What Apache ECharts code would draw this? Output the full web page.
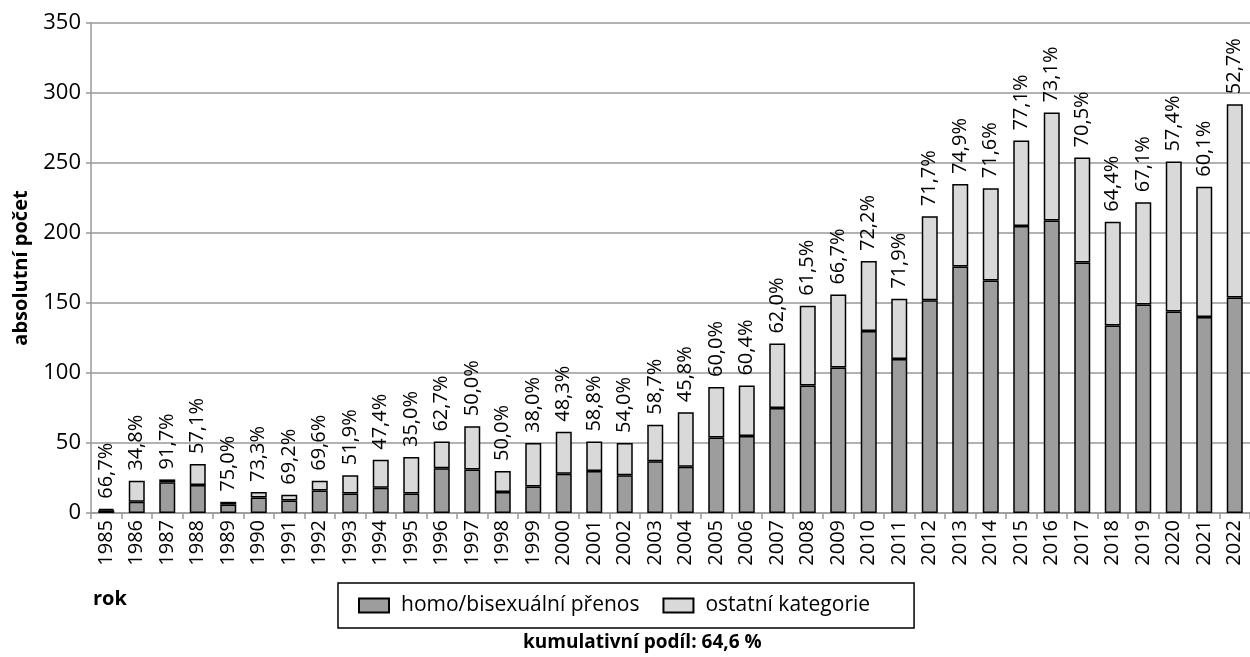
<!DOCTYPE html>
<html>
<head>
<meta charset="utf-8">
<script src="https://cdn.jsdelivr.net/npm/echarts@6/dist/echarts.min.js"></script>
<style>
  html, body { margin: 0; padding: 0; background: #fff; }
  #chart { width: 1250px; height: 657px; }
</style>
</head>
<body>
<div id="chart"></div>
<script>
// roky
const years = ['1985','1986','1987','1988','1989','1990','1991','1992','1993','1994',
  '1995','1996','1997','1998','1999','2000','2001','2002','2003','2004',
  '2005','2006','2007','2008','2009','2010','2011','2012','2013','2014',
  '2015','2016','2017','2018','2019','2020','2021','2022']
// celkovy pocet
const totals = [3, 23, 24, 35, 8, 15, 13, 23, 27, 38,
  40, 51, 62, 30, 50, 58, 51, 50, 63, 72,
  90, 91, 121, 148, 156, 180, 153, 212, 235, 232,
  266, 286, 254, 208, 222, 251, 233, 292]
// homo/bisexualni prenos
const homo = [2, 8, 22, 20, 6, 11, 9, 16, 14, 18,
  14, 32, 31, 15, 19, 28, 30, 27, 37, 33,
  54, 55, 75, 91, 104, 130, 110, 152, 176, 166,
  205, 209, 179, 134, 149, 144, 140, 154]
// popisky nad sloupci
const shares = ['66,7%','34,8%','91,7%','57,1%','75,0%','73,3%','69,2%','69,6%','51,9%','47,4%',
  '35,0%','62,7%','50,0%','50,0%','38,0%','48,3%','58,8%','54,0%','58,7%','45,8%',
  '60,0%','60,4%','62,0%','61,5%','66,7%','72,2%','71,9%','71,7%','74,9%','71,6%',
  '77,1%','73,1%','70,5%','64,4%','67,1%','57,4%','60,1%','52,7%']
const yTicks = [0, 50, 100, 150, 200, 250, 300, 350]

const others = totals.map((t, i) => t - homo[i])
const font = "'Open Sans', 'Noto Sans', sans-serif"
const boldFont = "'Liberation Sans Narrow', 'Open Sans', sans-serif"

const chart = echarts.init(document.getElementById('chart'))
const option = {
  animation: false,
  textStyle: { fontFamily: font, color: '#000' },
  grid: {
    left: 91,
    top: 23,
    width: 1165,
    height: 490
  },
  legend: {
    left: 338,
    top: 583,
    padding: [12, 44, 12, 20],
    itemGap: 23,
    itemWidth: 30,
    itemHeight: 14,
    icon: 'rect',
    borderColor: '#000',
    borderWidth: 1.5,
    selectedMode: false,
    textStyle: { fontFamily: font, fontSize: 21, color: '#000', padding: [0, 0, 0, 7] },
    data: ['homo/bisexuální přenos', 'ostatní kategorie']
  },
  xAxis: {
    type: 'category',
    data: years,
    axisLine: { lineStyle: { color: '#999', width: 1.5 } },
    axisTick: { show: true, length: 6, lineStyle: { color: '#999', width: 1.5 } },
    axisLabel: { rotate: 90, margin: 7, fontSize: 20, color: '#000', fontFamily: font }
  },
  yAxis: {
    type: 'value',
    min: yTicks[0],
    max: yTicks[yTicks.length - 1],
    interval: 50,
    name: 'absolutní počet',
    nameLocation: 'middle',
    nameGap: 60,
    nameTextStyle: { fontFamily: boldFont, fontWeight: 'bold', fontSize: 20, color: '#000' },
    axisLine: { show: true, lineStyle: { color: '#999', width: 1.5 } },
    axisTick: { show: true, length: 5, lineStyle: { color: '#999', width: 1.5 } },
    axisLabel: { margin: 10, fontSize: 22, color: '#000', fontFamily: font },
    splitLine: { lineStyle: { color: '#999', width: 1.5 } }
  },
  series: [
    {
      name: 'homo/bisexuální přenos',
      type: 'bar',
      stack: 'a',
      barWidth: 16,
      itemStyle: { color: '#9d9d9d', borderColor: '#000', borderWidth: 1.5 },
      data: homo
    },
    {
      name: 'ostatní kategorie',
      type: 'bar',
      stack: 'a',
      barWidth: 16,
      itemStyle: { color: '#d9d9d9', borderColor: '#000', borderWidth: 1.5 },
      label: {
        show: true,
        position: 'top',
        rotate: 90,
        align: 'left',
        verticalAlign: 'middle',
        distance: 10,
        fontSize: 20,
        color: '#000',
        fontFamily: font,
        formatter: p => shares[p.dataIndex]
      },
      data: others
    }
  ],
  graphic: [
    {
      type: 'text',
      left: 93,
      top: 589,
      style: { text: 'rok', font: 'bold 20px ' + boldFont, fill: '#000' }
    },
    {
      type: 'text',
      left: 523,
      top: 633,
      style: { text: 'kumulativní podíl: 64,6 %', font: 'bold 19px ' + boldFont, fill: '#000' }
    }
  ]
}
chart.setOption(option)
</script>
</body>
</html>
